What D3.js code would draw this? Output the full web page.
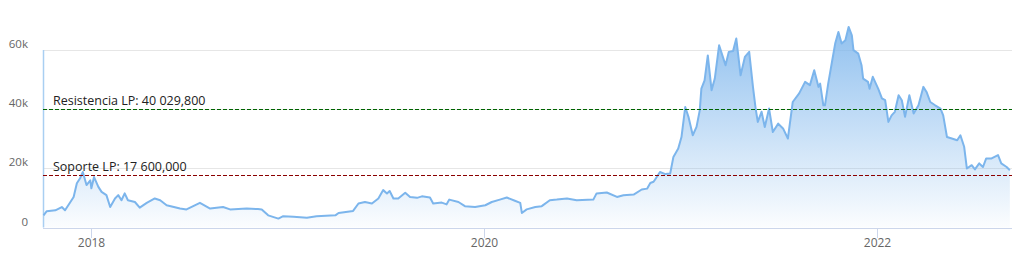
<!DOCTYPE html>
<html>
<head>
<meta charset="utf-8">
<script src="https://cdn.jsdelivr.net/npm/d3@7"></script>
<style>
  html, body { margin: 0; padding: 0; background: #fff; }
  svg { display: block; font-family: "Open Sans", "DejaVu Sans", sans-serif; }
</style>
</head>
<body>
<svg id="chart" width="1022" height="262"></svg>
<script>
// price readings
var dates = [
  "2017-10-04","2017-10-10","2017-10-26","2017-11-07","2017-11-13","2017-11-23","2017-11-29",
  "2017-12-05","2017-12-11","2017-12-16","2017-12-23","2017-12-30","2018-01-01","2018-01-06",
  "2018-01-14","2018-01-20","2018-01-29","2018-02-05","2018-02-14","2018-02-20","2018-02-26",
  "2018-03-04","2018-03-10","2018-03-23","2018-04-01","2018-04-14","2018-04-29","2018-05-09",
  "2018-05-21","2018-06-15","2018-06-27","2018-07-22","2018-08-10","2018-09-03","2018-09-16",
  "2018-10-17","2018-11-07","2018-11-14","2018-11-26","2018-12-15","2018-12-24","2019-01-12",
  "2019-02-06","2019-02-24","2019-03-31","2019-04-06","2019-05-03","2019-05-13","2019-05-25",
  "2019-06-07","2019-06-19","2019-06-28","2019-07-05","2019-07-10","2019-07-17","2019-07-26",
  "2019-08-08","2019-08-17","2019-08-30","2019-09-08","2019-09-23","2019-09-29","2019-10-15",
  "2019-10-24","2019-10-29","2019-11-15","2019-11-27","2019-12-16","2020-01-04","2020-01-16",
  "2020-01-31","2020-02-13","2020-02-28","2020-03-09","2020-03-12","2020-03-21","2020-04-06",
  "2020-04-18","2020-05-03","2020-05-16","2020-06-04","2020-06-22","2020-07-23","2020-07-29",
  "2020-08-17","2020-09-05","2020-09-17","2020-10-06","2020-10-21","2020-10-31","2020-11-06",
  "2020-11-12","2020-11-15","2020-11-24","2020-12-04","2020-12-13","2020-12-19","2020-12-28",
  "2021-01-03","2021-01-10","2021-01-16","2021-01-24","2021-01-31","2021-02-06","2021-02-09",
  "2021-02-15","2021-02-21","2021-02-28","2021-03-06","2021-03-14","2021-03-21","2021-03-26",
  "2021-04-01","2021-04-09","2021-04-15","2021-04-23","2021-05-01","2021-05-09","2021-05-16",
  "2021-05-21","2021-05-25","2021-06-01","2021-06-07","2021-06-15","2021-06-22","2021-07-02",
  "2021-07-11","2021-07-20","2021-07-29","2021-08-10","2021-08-21","2021-08-30","2021-09-07",
  "2021-09-15","2021-09-18","2021-09-24","2021-09-27","2021-10-03","2021-10-10","2021-10-16",
  "2021-10-22","2021-10-28","2021-11-04","2021-11-10","2021-11-16","2021-11-19","2021-11-28",
  "2021-12-04","2021-12-07","2021-12-16","2021-12-19","2021-12-25","2022-01-04","2022-01-11",
  "2022-01-17","2022-01-23","2022-01-29","2022-02-04","2022-02-11","2022-02-17","2022-02-23",
  "2022-03-03","2022-03-11","2022-03-20","2022-03-29","2022-04-04","2022-04-11","2022-04-20",
  "2022-04-30","2022-05-05","2022-05-12","2022-05-21","2022-05-31","2022-06-06","2022-06-13",
  "2022-06-18","2022-06-27","2022-07-03","2022-07-11","2022-07-18","2022-07-24","2022-08-03",
  "2022-08-15","2022-08-21","2022-08-31","2022-09-06"
];
var prices = [
  4100,5500,5800,6900,5800,8600,10300,
  14900,16600,18700,14300,15900,13200,17000,
  13700,12000,10900,6900,9800,10900,9200,
  11500,9200,8600,6700,8300,9800,9200,
  7500,6400,6100,8300,6400,6900,6100,
  6400,6200,6100,4100,3000,3800,3600,
  3300,3800,4100,4900,5600,8100,8600,
  8100,9800,12600,11500,12300,9800,9800,
  11700,10300,10000,10500,10100,8100,8400,
  7800,9400,8600,7200,6900,7500,8600,
  9400,10100,9000,8300,4900,6100,6900,
  7200,9200,9400,9800,9200,9400,11500,
  11800,10300,10900,11100,12800,13100,15000,
  15400,16200,18700,18000,18200,23800,26600,
  30500,40600,37300,31100,33900,39500,46800,
  49600,58000,46300,50200,61400,57500,54700,
  59200,59500,63700,51300,57500,59200,47400,
  40100,35600,39000,33900,40100,32200,35000,
  33400,30000,42300,45200,49100,48000,53000,
  47400,48500,41200,41200,48500,55800,62000,
  65900,62000,63100,67600,64800,59800,58600,
  54700,50200,49100,46800,50800,46800,43500,
  42900,35600,37800,39000,44600,42900,37300,
  44600,38400,41200,47400,45700,42300,41200,
  40100,37800,30500,30000,29400,31100,27200,
  19900,21000,19600,21600,20400,23300,23300,
  24400,21600,20400,19300
];
var yTicks = [0, 20000, 40000, 60000];
var yTickLabels = ["0", "20k", "40k", "60k"];
var xTicks = ["2018-01-01", "2020-01-01", "2022-01-01"];
var xTickLabels = ["2018", "2020", "2022"];
var levelNames = ["Resistencia LP: 40 029,800", "Soporte LP: 17 600,000"];
var levelValues = [40029.8, 17600];
var levelColors = ["#006400", "#8b0000"];

var parse = d3.timeParse("%Y-%m-%d");
var series = dates.map((d, i) => ({ date: parse(d), value: prices[i] }));

var plotLeft = 43, plotRight = 1012, plotBottom = 227.5, plotTop = 49.5;

var x = d3.scaleTime()
  .domain([parse("2017-10-03"), parse("2022-09-10")])
  .range([plotLeft, plotRight]);
var y = d3.scaleLinear()
  .domain([0, 60000])
  .range([plotBottom, plotTop]);

var svg = d3.select('#chart');

var defs = svg.append('defs');
var grad = defs.append('linearGradient')
  .attr('id', 'areaFill')
  .attr('gradientUnits', 'userSpaceOnUse')
  .attr('x1', 0).attr('y1', 25)
  .attr('x2', 0).attr('y2', plotBottom);
grad.append('stop').attr('offset', '0%').attr('stop-color', '#7cb5ec').attr('stop-opacity', 0.85);
grad.append('stop').attr('offset', '100%').attr('stop-color', '#7cb5ec').attr('stop-opacity', 0.03);

// grid lines
svg.append('g')
  .selectAll('line')
  .data(yTicks.slice(1))
  .enter()
  .append('line')
  .attr('x1', plotLeft)
  .attr('x2', plotRight)
  .attr('y1', (d) => Math.round(y(d)) + 0.5)
  .attr('y2', (d) => Math.round(y(d)) + 0.5)
  .style('stroke', '#e6e6e6')
  .style('stroke-width', 1);

// y labels
svg.append('g')
  .selectAll('text')
  .data(yTicks)
  .enter()
  .append('text')
  .attr('x', 28)
  .attr('y', (d) => y(d) - 2)
  .attr('text-anchor', 'end')
  .style('font-size', '11.5px')
  .style('fill', '#666')
  .text((d, i) => yTickLabels[i]);

// area + line
var area = d3.area()
  .x((d) => x(d.date))
  .y0(plotBottom)
  .y1((d) => y(d.value));
var line = d3.line()
  .x((d) => x(d.date))
  .y((d) => y(d.value));

svg.append('path')
  .datum(series)
  .attr('d', area)
  .style('fill', 'url(#areaFill)');

// left edge line
svg.append('line')
  .attr('x1', plotLeft + 0.5).attr('x2', plotLeft + 0.5)
  .attr('y1', 50).attr('y2', plotBottom)
  .style('stroke', '#a9cff2')
  .style('stroke-width', 1.5);

svg.append('path')
  .datum(series)
  .attr('d', line)
  .style('fill', 'none')
  .style('stroke', '#7cb5ec')
  .style('stroke-width', 2)
  .style('stroke-linejoin', 'round');

// x axis
svg.append('line')
  .attr('x1', plotLeft).attr('x2', plotRight)
  .attr('y1', Math.round(plotBottom) + 0.5).attr('y2', Math.round(plotBottom) + 0.5)
  .style('stroke', '#ccd6eb');

var xt = svg.append('g')
  .selectAll('g')
  .data(xTicks)
  .enter()
  .append('g')
  .attr('transform', (d) => 'translate(' + (Math.round(x(parse(d))) + 0.5) + ',0)');
xt.append('line')
  .attr('y1', Math.round(plotBottom) + 0.5)
  .attr('y2', Math.round(plotBottom) + 10)
  .style('stroke', '#ccd6eb');
xt.append('text')
  .attr('y', 247)
  .attr('text-anchor', 'middle')
  .style('font-size', '12px')
  .style('fill', '#666')
  .text((d, i) => xTickLabels[i]);

// support / resistance lines
var lv = svg.append('g')
  .selectAll('g')
  .data(levelValues)
  .enter()
  .append('g');
lv.append('line')
  .attr('x1', plotLeft)
  .attr('x2', plotRight)
  .attr('y1', (d) => Math.round(y(d)) + 0.5)
  .attr('y2', (d) => Math.round(y(d)) + 0.5)
  .style('stroke', (d, i) => levelColors[i])
  .style('stroke-width', 1)
  .style('stroke-dasharray', '4,2');
lv.append('text')
  .attr('x', 53)
  .attr('y', (d) => y(d) - 4)
  .style('font-size', '12.5px')
  .style('fill', '#222')
  .text((d, i) => levelNames[i]);
</script>
</body>
</html>
